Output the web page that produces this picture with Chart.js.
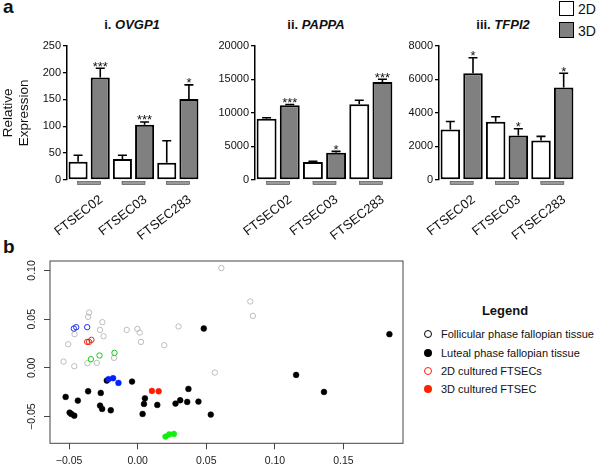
<!DOCTYPE html>
<html>
<head>
<meta charset="utf-8">
<script src="https://cdn.jsdelivr.net/npm/chart.js@4.4.1/dist/chart.umd.min.js"></script>
<style>
  body { margin: 0; background: #fff; font-family: "Liberation Sans", Arial, sans-serif; }
  #wrap { position: relative; width: 600px; height: 469px; overflow: hidden; background: #fff; }
  canvas { position: absolute; }
  .txt { position: absolute; color: #111; white-space: nowrap; }
  .ttl { position: absolute; width: 130px; text-align: center; font-size: 13px; font-weight: bold; line-height: 16px; top: 17px; color: #111; }
  .box { position: absolute; left: 559px; width: 13px; height: 13px; border: 1.6px solid #000; }
  .dot { position: absolute; width: 8px; height: 8px; border-radius: 50%; box-sizing: border-box; }
  .lg { position: absolute; left: 441px; font-size: 11px; line-height: 14px; color: #111; white-space: nowrap; }
</style>
</head>
<body>
<div id="wrap">
  <div class="txt" style="left:3px;top:-3px;font-size:19px;font-weight:bold;line-height:20px">a</div>
  <div class="txt" style="left:3px;top:237px;font-size:19px;font-weight:bold;line-height:20px">b</div>

  <div class="ttl" style="left:67px">i. <i>OVGP1</i></div>
  <div class="ttl" style="left:251px">ii. <i>PAPPA</i></div>
  <div class="ttl" style="left:438px">iii. <i>TFPI2</i></div>

  <div class="box" style="top:1px;background:#fff"></div>
  <div class="txt" style="left:578px;top:1px;font-size:14px;line-height:16px">2D</div>
  <div class="box" style="top:22px;height:14px;background:#808080"></div>
  <div class="txt" style="left:578px;top:23px;font-size:14px;line-height:16px">3D</div>

  <canvas id="chart_1" width="215" height="240" style="left:0;top:0"></canvas>
  <canvas id="chart_2" width="200" height="240" style="left:205px;top:0"></canvas>
  <canvas id="chart_3" width="200" height="240" style="left:400px;top:0"></canvas>
  <canvas id="chart_4" width="420" height="229" style="left:0;top:240px"></canvas>

  <div id="legend"></div>
</div>

<script>
// panel a
const categories = ['FTSEC02', 'FTSEC03', 'FTSEC283'];

const ovgp1_2d = [34, 39, 32];
const ovgp1_2d_err = [12, 7, 41];
const ovgp1_3d = [191, 103, 151];
const ovgp1_3d_err = [17, 5, 26];
const ovgp1_sig = ['***', '***', '*'];
const ovgp1_ticks = [0, 50, 100, 150, 200, 250];

const pappa_2d = [9110, 2670, 11290];
const pappa_2d_err = [150, 100, 590];
const pappa_3d = [11140, 4060, 14600];
const pappa_3d_err = [100, 200, 400];
const pappa_sig = ['***', '*', '***'];
const pappa_ticks = [0, 5000, 10000, 15000, 20000];

const tfpi2_2d = [3010, 3465, 2356];
const tfpi2_2d_err = [475, 300, 240];
const tfpi2_3d = [6356, 2653, 5505];
const tfpi2_3d_err = [930, 400, 850];
const tfpi2_sig = ['*', '*', '*'];
const tfpi2_ticks = [0, 2000, 4000, 6000, 8000];

// panel b
const follicular = [[0.061, 0.1024], [0.0821, 0.0682], [0.084, 0.0534], [-0.0354, 0.0568], [-0.0361, 0.0524],
    [-0.0257, 0.0469], [-0.0274, 0.039], [-0.0249, 0.0325], [-0.046, 0.0346], [-0.0506, 0.0243], [-0.008, 0.039],
    [-0.0002, 0.04], [0.0015, 0.0363], [0.0024, 0.0267], [0.0298, 0.0425], [0.0194, 0.0233], [-0.054, 0.0065],
    [-0.0462, 0.0017], [-0.0366, 0.0048], [-0.0298, 0.0051], [-0.0172, 0.0103], [0.0562, -0.0048]];
const luteal = [[-0.0525, -0.0298], [-0.0361, -0.024], [-0.0436, -0.0336], [-0.0269, -0.0257], [-0.0496, -0.0459],
    [-0.0484, -0.0473], [-0.0462, -0.049], [-0.0274, -0.0387], [-0.0259, -0.0421], [-0.0196, -0.0435],
    [-0.0225, -0.013], [-0.0041, -0.014], [0.0053, -0.0312], [0.0046, -0.037], [0.0036, -0.0473], [0.0143, -0.038],
    [0.0276, -0.0366], [0.031, -0.0332], [0.037, -0.0216], [0.0361, -0.0349], [0.0443, -0.0346], [0.0482, 0.0404],
    [0.0533, -0.0479], [0.1155, -0.0072], [0.1358, -0.0247], [0.1835, 0.0346]];
const cult2d_blue = [[-0.0465, 0.0404], [-0.0448, 0.0418], [-0.0368, 0.0418]];
const cult2d_red = [[-0.0368, 0.0267], [-0.0354, 0.0267], [-0.0337, 0.0288]];
const cult2d_green = [[-0.0341, 0.0089], [-0.0278, 0.0127], [-0.0169, 0.0154]];
const cult3d_blue = [[-0.0213, -0.0116], [-0.0179, -0.0106], [-0.014, -0.0154]];
const cult3d_red = [[0.0104, -0.0236], [0.0153, -0.024]];
const cult3d_green = [[0.0203, -0.0705], [0.023, -0.0682], [0.0264, -0.0678]];

const x_ticks = [-0.05, 0, 0.05, 0.10, 0.15];
const y_ticks = [-0.05, 0, 0.05, 0.10];

const legend_names = ['Follicular phase fallopian tissue', 'Luteal phase fallopian tissue', '2D cultured FTSECs', '3D cultured FTSEC'];

Chart.defaults.font.family = '"Liberation Sans", Arial, sans-serif';
Chart.defaults.color = '#111';

const fmt = v => v.toFixed(2).replace('-', '\u2212');

// error bars + stars on top of the bars
const errorBars = {
    id: 'errorBars',
    afterDatasetsDraw(chart) {
        let c = chart.ctx;
        let y = chart.scales.y;
        chart.data.datasets.forEach((ds, i) => {
            chart.getDatasetMeta(i).data.forEach((bar, j) => {
                let top = y.getPixelForValue(ds.data[j]);
                let hi = y.getPixelForValue(ds.data[j] + ds.err[j]);
                c.save();
                c.strokeStyle = '#000';
                c.lineWidth = 1.6;
                c.beginPath();
                c.moveTo(bar.x, top);
                c.lineTo(bar.x, hi);
                c.moveTo(bar.x - 4.5, hi);
                c.lineTo(bar.x + 4.5, hi);
                c.stroke();
                if (ds.sig) {
                    c.fillStyle = '#111';
                    c.font = '13px "Liberation Sans"';
                    c.textAlign = 'center';
                    c.fillText(ds.sig[j], bar.x, hi + 2.5);
                }
                c.restore();
            });
        });
    }
};

// small grey bar under each group
const groupLines = {
    id: 'groupLines',
    afterDraw(chart) {
        let c = chart.ctx;
        let x = chart.scales.x;
        let b = chart.chartArea.bottom;
        c.save();
        categories.forEach((cat, i) => {
            let cx = x.getPixelForValue(i);
            c.fillStyle = '#9a9a9a';
            c.fillRect(cx - 11.5, b + 1.5, 23, 3);
            c.strokeStyle = '#444';
            c.lineWidth = 0.6;
            c.strokeRect(cx - 11.5, b + 1.5, 23, 3);
        });
        c.restore();
    }
};

function barChart(id, yWidth, padRight, d2, e2, d3, e3, sig, ticks, withTitle) {
    const ctx = document.getElementById(id).getContext('2d');
    return new Chart(ctx, {
        type: 'bar',
        data: {
            labels: categories,
            datasets: [
                { label: '2D', data: d2, err: e2, backgroundColor: '#ffffff', borderColor: '#000', borderWidth: 2, borderSkipped: false },
                { label: '3D', data: d3, err: e3, sig: sig, backgroundColor: '#808080', borderColor: '#000', borderWidth: 2, borderSkipped: false }
            ]
        },
        options: {
            responsive: false,
            animation: false,
            layout: { padding: { top: 45.7, right: padRight, bottom: 0, left: 0 } },
            plugins: { legend: { display: false }, tooltip: { enabled: false } },
            datasets: { bar: { categoryPercentage: 1, barPercentage: 0.86 } },
            scales: {
                x: {
                    grid: { display: false, drawTicks: false },
                    border: { display: false },
                    ticks: { font: { size: 13 }, minRotation: 38, maxRotation: 38, labelOffset: 12, padding: 12, autoSkip: false },
                    afterFit: s => { s.height = 60; s.paddingLeft = 0; s.paddingRight = 0; }
                },
                y: {
                    min: 0,
                    max: ticks[ticks.length - 1],
                    afterBuildTicks: s => { s.ticks = ticks.map(v => ({ value: v })); },
                    ticks: { font: { size: 11 }, padding: 2, callback: v => String(v) },
                    grid: { drawOnChartArea: false, tickLength: 4, color: '#000', lineWidth: 1.3 },
                    border: { color: '#000', width: 1.5 },
                    title: { display: withTitle, text: ['Relative', 'Expression'], font: { size: 13.5 }, padding: { top: 0, bottom: 0 } },
                    afterFit: s => { s.width = yWidth; }
                }
            }
        },
        plugins: [errorBars, groupLines]
    });
}

barChart('chart_1', 67, 15, ovgp1_2d, ovgp1_2d_err, ovgp1_3d, ovgp1_3d_err, ovgp1_sig, ovgp1_ticks, true);
barChart('chart_2', 50, 11, pappa_2d, pappa_2d_err, pappa_3d, pappa_3d_err, pappa_sig, pappa_ticks, false);
barChart('chart_3', 39, 25, tfpi2_2d, tfpi2_2d_err, tfpi2_3d, tfpi2_3d_err, tfpi2_sig, tfpi2_ticks, false);

// box round the scatter + rotated y labels (R style)
const frame = {
    id: 'frame',
    afterDraw(chart) {
        let c = chart.ctx;
        let a = chart.chartArea;
        let y = chart.scales.y;
        c.save();
        c.strokeStyle = '#444';
        c.lineWidth = 1;
        c.strokeRect(a.left, a.top, a.right - a.left, a.bottom - a.top);
        c.fillStyle = '#222';
        c.font = '10.5px "Liberation Sans"';
        c.textAlign = 'center';
        c.textBaseline = 'middle';
        y_ticks.forEach(v => {
            c.save();
            c.translate(32, y.getPixelForValue(v));
            c.rotate(-Math.PI / 2);
            c.fillText(fmt(v), 0, 0);
            c.restore();
        });
        c.restore();
    }
};

const pts = arr => arr.map(p => ({ x: p[0], y: p[1] }));
const open = (data, color, order) => ({ data: pts(data), pointRadius: 2.7, pointBorderWidth: 1, pointBorderColor: color, pointBackgroundColor: 'rgba(0,0,0,0)', order: order });
const filled = (data, color, order) => ({ data: pts(data), pointRadius: 2.9, pointBorderWidth: 0.5, pointBorderColor: color, pointBackgroundColor: color, order: order });

new Chart(document.getElementById('chart_4').getContext('2d'), {
    type: 'scatter',
    data: {
        datasets: [
            open(follicular, '#bcbcbc', 3),
            filled(luteal, '#000000', 2),
            open(cult2d_blue, '#2233ee', 1),
            open(cult2d_red, '#ee2211', 1),
            open(cult2d_green, '#11cc11', 1),
            filled(cult3d_blue, '#0022ff', 0),
            filled(cult3d_red, '#ff1a00', 0),
            filled(cult3d_green, '#11ee11', 0)
        ]
    },
    options: {
        responsive: false,
        animation: false,
        layout: { padding: { top: 21, right: 17, bottom: 0, left: 0 } },
        plugins: { legend: { display: false }, tooltip: { enabled: false } },
        scales: {
            x: {
                min: -0.0639,
                max: 0.1934,
                afterBuildTicks: s => { s.ticks = x_ticks.map(v => ({ value: v })); },
                ticks: { font: { size: 10.5 }, color: '#222', padding: 6, autoSkip: false, maxRotation: 0, callback: v => fmt(v) },
                grid: { drawOnChartArea: false, tickLength: 6, color: '#444' },
                border: { display: false },
                afterFit: s => { s.height = 25.7; s.paddingLeft = 0; s.paddingRight = 0; }
            },
            y: {
                min: -0.0774,
                max: 0.1097,
                afterBuildTicks: s => { s.ticks = y_ticks.map(v => ({ value: v })); },
                ticks: { display: false },
                grid: { drawOnChartArea: false, tickLength: 6, color: '#444' },
                border: { display: false },
                afterFit: s => { s.width = 50; }
            }
        }
    },
    plugins: [frame]
});

// legend for panel b
let legend = document.getElementById('legend');
let rows = [334.3, 352.7, 371, 389];
let marks = ['border:1.3px solid #000;background:#fff', 'background:#000', 'border:1.3px solid #ff2200;background:#fff', 'background:#ff2200'];
let html = '<div class="txt" style="left:445px;top:303px;width:120px;text-align:center;font-size:13px;font-weight:bold;line-height:16px">Legend</div>';
legend_names.forEach((name, i) => {
    html += `<div class="dot" style="left:${424}px;top:${rows[i] - 4}px;${marks[i]}"></div>`;
    html += `<div class="lg" style="top:${rows[i] - 7}px">${name}</div>`;
});
legend.innerHTML = html;
</script>
</body>
</html>
